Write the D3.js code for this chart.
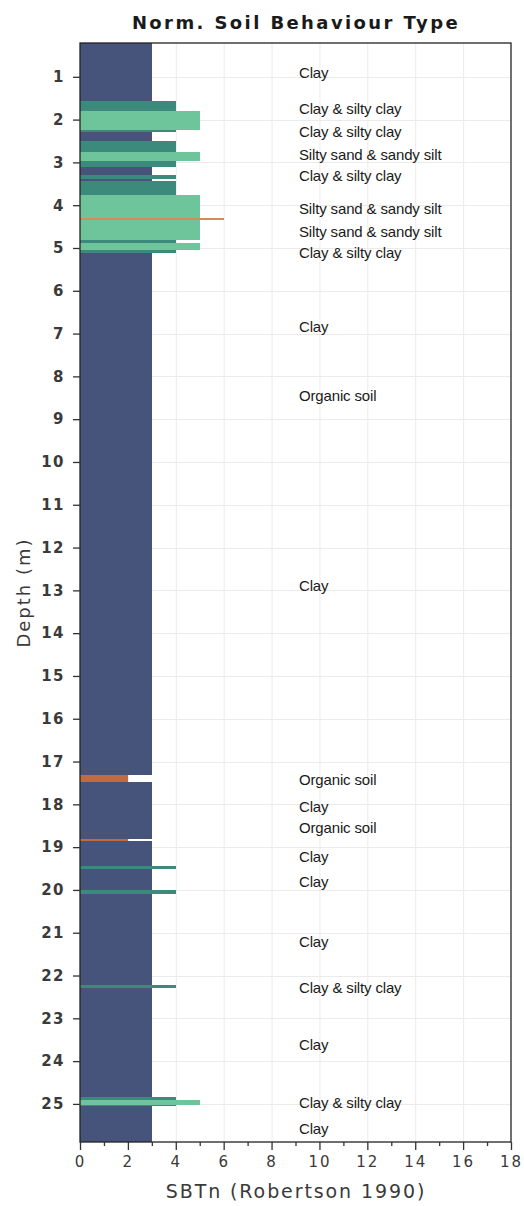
<!DOCTYPE html>
<html>
<head>
<meta charset="utf-8">
<script src="https://cdn.jsdelivr.net/npm/d3@7"></script>
<style>
  html, body { margin: 0; padding: 0; background: #fff; }
  svg { display: block; }
</style>
</head>
<body>
<script>
// CPT layers: top / bottom depth (m) and normalised soil behaviour type
const layerTop    = [0.21, 1.56, 1.79, 2.25, 2.28, 2.50, 2.75, 2.97, 3.10, 3.30, 3.39, 3.44, 3.77, 4.31, 4.35, 4.82, 4.89, 5.05, 5.11, 17.31, 17.48, 18.81, 18.86, 19.43, 19.52, 20.00, 20.09, 22.21, 22.29, 24.85, 24.90, 25.02, 25.06];
const layerBottom = [1.56, 1.79, 2.25, 2.28, 2.50, 2.75, 2.97, 3.10, 3.30, 3.39, 3.44, 3.77, 4.31, 4.35, 4.82, 4.89, 5.05, 5.11, 17.31, 17.48, 18.81, 18.86, 19.43, 19.52, 20.00, 20.09, 22.21, 22.29, 24.85, 24.90, 25.02, 25.06, 25.89];
const layerSBTn   = [3, 4, 5, 4, 3, 4, 5, 4, 3, 4, 3, 4, 5, 6, 5, 4, 5, 4, 3, 2, 3, 2, 3, 4, 3, 4, 3, 4, 3, 4, 5, 4, 3];

// Zone descriptions printed beside the profile
const zoneLabels = ["Clay", "Clay & silty clay", "Clay & silty clay", "Silty sand & sandy silt", "Clay & silty clay",
  "Silty sand & sandy silt", "Silty sand & sandy silt", "Clay & silty clay", "Clay", "Organic soil", "Clay",
  "Organic soil", "Clay", "Organic soil", "Clay", "Clay", "Clay", "Clay & silty clay", "Clay", "Clay & silty clay", "Clay"];
const zoneLabelDepth = [0.91, 1.74, 2.29, 2.81, 3.32, 4.09, 4.61, 5.10, 6.83, 8.46, 12.9,
  17.42, 18.05, 18.54, 19.22, 19.80, 21.20, 22.29, 23.61, 24.97, 25.57];

// Axis ticks
const depthTicks = d3.range(1, 26);
const sbtnTicks = [0, 2, 4, 6, 8, 10, 12, 14, 16, 18];
const sbtnMinorTicks = [1, 3, 5, 7, 9, 11, 13, 15, 17];

const zoneCodes  = [1, 2, 3, 4, 5, 6, 7, 8, 9];
const zoneColors = ["#c23b3b", "#c46a3c", "#46537a", "#3b8a7b", "#6ec59b", "#d08c5c", "#e0c070", "#9a9a9a", "#707070"];

const W = 524, H = 1206;
const plot = { left: 80, right: 511, top: 43, bottom: 1142 };

const svg = d3.select("body").append("svg").attr("width", W).attr("height", H);
svg.append("rect").attr("width", W).attr("height", H).attr("fill", "#fff");

const x = d3.scaleLinear().domain([0, 18]).range([plot.left, plot.right]);
const y = d3.scaleLinear().domain([0.21, 25.89]).range([plot.top, plot.bottom]);
const color = d3.scaleOrdinal().domain(zoneCodes).range(zoneColors);

// Grid
const grid = svg.append("g").attr("stroke", "#ebebeb").attr("stroke-width", 1);
grid.selectAll("line.v").data(sbtnTicks.slice(1, -1)).join("line")
  .attr("x1", d => x(d) + 0.5).attr("x2", d => x(d) + 0.5)
  .attr("y1", plot.top).attr("y2", plot.bottom);
grid.selectAll("line.h").data(depthTicks).join("line")
  .attr("x1", plot.left).attr("x2", plot.right)
  .attr("y1", d => Math.round(y(d)) + 0.5).attr("y2", d => Math.round(y(d)) + 0.5);

// Layer bars
const layers = layerTop.map((t, i) => ({ top: t, bottom: layerBottom[i], v: layerSBTn[i] }));
svg.append("g").attr("shape-rendering", "crispEdges")
  .selectAll("rect").data(layers).join("rect")
  .attr("x", x(0))
  .attr("y", d => y(d.top))
  .attr("width", d => x(d.v) - x(0))
  .attr("height", d => y(d.bottom) - y(d.top))
  .attr("fill", d => color(d.v));

// Zone labels
svg.append("g")
  .attr("font-family", "'Liberation Sans', Arial, sans-serif")
  .attr("font-size", 15).attr("letter-spacing", -0.15).attr("fill", "#1a1a1a")
  .selectAll("text").data(zoneLabels).join("text")
  .attr("x", 299)
  .attr("y", (d, i) => y(zoneLabelDepth[i]))
  .attr("dy", "0.36em")
  .text(d => d);

// Frame
svg.append("rect")
  .attr("x", plot.left).attr("y", plot.top)
  .attr("width", plot.right - plot.left).attr("height", plot.bottom - plot.top)
  .attr("fill", "none").attr("stroke", "#222").attr("stroke-width", 1.3);

const axisFont = "'DejaVu Sans', Verdana, sans-serif";

// Depth axis
const yAxis = svg.append("g").attr("transform", `translate(${plot.left},0)`)
  .call(d3.axisLeft(y).tickValues(depthTicks).tickSize(7).tickPadding(8).tickFormat(d3.format("d")));
yAxis.select(".domain").remove();
yAxis.selectAll(".tick line").attr("stroke", "#333").attr("stroke-width", 1.3);
yAxis.selectAll(".tick text").attr("font-family", axisFont).attr("font-size", 15)
  .attr("letter-spacing", 1.5).attr("fill", "#3a3a3a").attr("font-weight", "bold");

// SBTn axis
const xAxis = svg.append("g").attr("transform", `translate(0,${plot.bottom})`)
  .call(d3.axisBottom(x).tickValues(sbtnTicks).tickSize(8).tickPadding(6).tickFormat(d3.format("d")));
xAxis.select(".domain").remove();
xAxis.selectAll(".tick line").attr("stroke", "#333").attr("stroke-width", 1.3);
xAxis.selectAll(".tick text").attr("font-family", axisFont).attr("font-size", 15)
  .attr("letter-spacing", 2).attr("fill", "#3a3a3a");
svg.append("g").attr("transform", `translate(0,${plot.bottom})`)
  .call(d3.axisBottom(x).tickValues(sbtnMinorTicks).tickSize(4).tickFormat(""))
  .call(g => g.select(".domain").remove())
  .selectAll(".tick line").attr("stroke", "#333").attr("stroke-width", 1.3);

// Titles
svg.append("text").attr("x", 296).attr("y", 29).attr("text-anchor", "middle")
  .attr("font-family", axisFont).attr("font-weight", "bold").attr("font-size", 18)
  .attr("letter-spacing", 2.4).attr("fill", "#1a1a1a")
  .text("Norm. Soil Behaviour Type");

svg.append("text").attr("x", 296).attr("y", 1198).attr("text-anchor", "middle")
  .attr("font-family", axisFont).attr("font-size", 19).attr("letter-spacing", 1.9).attr("fill", "#3a3a3a")
  .text("SBTn (Robertson 1990)");

svg.append("text").attr("transform", `translate(30,${(plot.top + plot.bottom) / 2}) rotate(-90)`)
  .attr("text-anchor", "middle")
  .attr("font-family", axisFont).attr("font-size", 18).attr("letter-spacing", 2).attr("fill", "#3a3a3a")
  .text("Depth (m)");
</script>
</body>
</html>
